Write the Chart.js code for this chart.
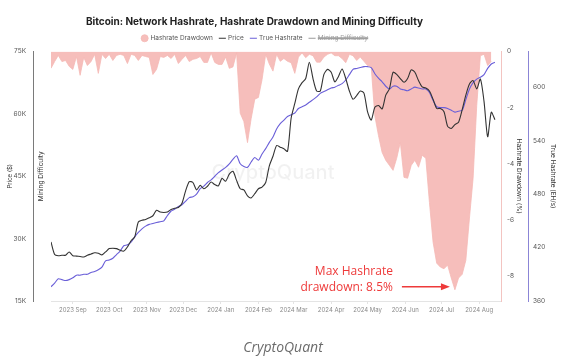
<!DOCTYPE html>
<html><head><meta charset="utf-8">
<script src="https://cdn.jsdelivr.net/npm/chart.js@4.4.1/dist/chart.umd.min.js"></script>
<style>
html,body{margin:0;padding:0;background:#fff;}
#wrap{position:relative;width:576px;height:360px;}
#caption{position:absolute;left:0;width:566px;top:337px;text-align:center;font:italic 14px 'Open Sans',sans-serif;color:#6b6b6b;}
</style></head><body>
<div id="wrap"><canvas id="c" width="576" height="360"></canvas><div id="caption">CryptoQuant</div></div>
<script>
// ---- data (daily series sampled every 3 days from 2023-08-14) ----
const startDate = '2023-08-14';
const monthLabels = ['2023 Sep','2023 Oct','2023 Nov','2023 Dec','2024 Jan','2024 Feb','2024 Mar','2024 Apr','2024 May','2024 Jun','2024 Jul','2024 Aug'];
const monthDates  = ['2023-09-01','2023-10-01','2023-11-01','2023-12-01','2024-01-01','2024-02-01','2024-03-01','2024-04-01','2024-05-01','2024-06-01','2024-07-01','2024-08-01'];
const priceTicks = [15000,30000,45000,60000,75000];
const drawdownTicks = [0,-2,-4,-6,-8];
const hashrateTicks = [360,420,480,540,600];

const price = [29200,26200,25900,26000,26000,26800,25900,25800,25700,25600,
  26000,26300,26600,26500,26100,26800,27600,27700,27600,27200,
  27000,28000,29500,30400,34000,34400,34600,35000,35500,36800,
  36400,36300,36400,37000,37300,37500,38500,41500,43700,43500,
  41700,42800,42000,42600,43600,43000,42700,44500,43800,45500,
  46200,44000,42000,41700,40300,39800,40800,42000,42400,43500,
  47500,49800,52400,52000,51600,51000,59000,62500,66000,67500,
  68500,72400,68500,65500,65500,69500,70700,70000,67700,69000,
  70800,68500,65500,63500,64400,65500,65000,60500,58500,61600,
  62000,61200,64500,66000,70000,69500,68500,67600,68500,70600,
  70000,68000,66500,66200,65500,63500,61300,61300,60500,57000,
  56500,57400,58000,61000,64500,67200,68000,66000,68400,63000,
  54500,60400,58600];

const trueHashrate = [376,380,385,384,383,384,386,389,389,390,
  390,392,393,395,398,405,406,408,412,416,
  422,423,426,432,437,441,444,446,447,448,
  449,450,456,461,463,466,468,472,476,477,
  480,486,489,493,496,500,504,507,510,514,
  519,523,514,511,510,516,521,518,525,531,
  538,544,553,559,563,567,569,571,576,578,
  580,583,586,589,593,595,597,599,600,602,
  604,608,614,620,621,622,623,623,622,615,
  610,606,601,598,601,601,598,597,596,598,
  600,599,598,598,594,585,578,577,577,576,
  574,572,573,574,586,598,605,609,611,614,
  621,626,628];

const hashrateDrawdown = [-0.6,-0.36,-0.14,-0.36,-0.32,-0.53,-0.64,-0.18,-0.85,-0.21,
  -0.5,-0.36,-0.1,-0.78,-0.1,-0.25,-0.1,-0.32,-0.14,-0.1,
  -0.14,-0.43,-0.1,-0.14,-0.32,-0.14,-0.18,-0.21,-0.82,-0.64,
  -0.18,-0.21,-0.14,-0.25,-0.1,-0.43,-0.28,-0.14,-0.36,-0.28,
  -0.25,-0.18,-0.39,-0.39,-0.05,-0.39,-0.46,-0.46,-0.2,-0.6,
  -0.55,-0.05,-2.2,-2.5,-3.25,-2.4,-1.7,-1.64,-1.0,-0.1,
  -0.45,-0.7,-0.1,-0.35,-0.25,-0.35,-0.4,-0.78,-0.2,-0.05,
  -0.22,-0.1,-0.15,-0.38,-0.38,-0.2,-0.1,-0.05,-0.15,-0.15,
  -0.25,-0.4,-0.1,-0.15,-0.32,-0.2,-0.35,-0.5,-0.55,-2.3,
  -3.0,-3.6,-3.88,-4.06,-4.24,-3.81,-3.24,-4.49,-4.52,-4.06,
  -3.88,-4.13,-3.7,-3.81,-5.38,-6.8,-7.55,-7.69,-7.75,-7.62,
  -8.08,-8.5,-8.08,-7.95,-7.45,-5.94,-4.52,-1.92,-0.15,-0.1,
  -0.5,-0.35,null];

const miningDifficulty = []; // hidden series (legend only)

// ---- helpers ----
const DAY = 86400000;
const t0 = Date.parse(startDate);
const dayOf = s => Math.round((Date.parse(s) - t0) / DAY);
const days = price.map((_, i) => i * 3);               // category positions (every 3rd day)
const monthPos = monthDates.map(dayOf);
const pts = arr => arr.map((v, i) => ({x: days[i], y: v}));

Chart.defaults.font.family = 'Inter, "Liberation Sans", sans-serif';

const overlay = {
  id: 'overlay',
  afterLayout(chart) {
    // title & legend of the source image sit centred around x≈255
    if (chart.titleBlock) chart.titleBlock.right = chart.titleBlock.left + 509;
    if (chart.legend) chart.legend.right = chart.legend.left + 510;
  },
  beforeDatasetsDraw(chart) {
    const {ctx, chartArea: a} = chart;
    ctx.save();
    ctx.font = '500 20px Inter, sans-serif';
    ctx.fillStyle = 'rgba(0,0,0,0.055)';
    ctx.textAlign = 'center';
    ctx.textBaseline = 'middle';
    ctx.fillText('CryptoQuant', (a.left + a.right) / 2 - 3, (a.top + a.bottom) / 2 - 3);
    ctx.restore();
  },
  afterDatasetsDraw(chart) {
    const {ctx} = chart;
    let mi = 0;
    hashrateDrawdown.forEach((v, i) => { if (v !== null && v < hashrateDrawdown[mi]) mi = i; });
    const tipX = chart.scales.x.getPixelForValue(days[mi]) - 5;
    const tipY = chart.scales.yDD.getPixelForValue(hashrateDrawdown[mi]) - 3;
    ctx.save();
    ctx.strokeStyle = '#ee3a3a'; ctx.fillStyle = '#ee3a3a'; ctx.lineWidth = 1.6;
    ctx.beginPath(); ctx.moveTo(tipX - 48, tipY); ctx.lineTo(tipX - 7, tipY); ctx.stroke();
    ctx.beginPath(); ctx.moveTo(tipX, tipY); ctx.lineTo(tipX - 9, tipY - 3.5); ctx.lineTo(tipX - 9, tipY + 3.5); ctx.closePath(); ctx.fill();
    ctx.font = '12px "Open Sans", sans-serif';
    ctx.textAlign = 'right'; ctx.textBaseline = 'middle';
    ctx.fillText('Max Hashrate', tipX - 57, tipY - 15);
    ctx.fillText('drawdown: 8.5%', tipX - 57, tipY + 1);
    ctx.restore();
  }
};

new Chart(document.getElementById('c'), {
  type: 'line',
  data: {
    datasets: [
      { label: 'Hashrate Drawdown', data: pts(hashrateDrawdown), yAxisID: 'yDD', order: 3,
        borderColor: '#f5b9b5', backgroundColor: '#f6bebb', borderWidth: 0.8, fill: 'origin',
        pointRadius: 0, pointStyle: 'circle', tension: 0 },
      { label: 'Price', data: pts(price), yAxisID: 'y', order: 1,
        borderColor: '#333333', backgroundColor: '#333333', borderWidth: 1.1,
        pointRadius: 0, pointStyle: 'line', tension: 0.25 },
      { label: 'True Hashrate', data: pts(trueHashrate), yAxisID: 'yH', order: 2,
        borderColor: '#6a5fd8', backgroundColor: '#6a5fd8', borderWidth: 1.1,
        pointRadius: 0, pointStyle: 'line', tension: 0.25 },
      { label: 'Mining Difficulty', data: miningDifficulty, yAxisID: 'yDiff', order: 4, hidden: true,
        borderColor: '#9a9a9a', backgroundColor: '#9a9a9a', borderWidth: 1.1,
        pointRadius: 0, pointStyle: 'line' }
    ]
  },
  options: {
    responsive: false, animation: false, devicePixelRatio: 1,
    layout: { padding: { left: 0, right: 0, top: 0, bottom: 39 } },
    plugins: {
      tooltip: { enabled: false },
      title: { display: true, text: 'Bitcoin: Network Hashrate, Hashrate Drawdown and Mining Difficulty',
        color: '#222', font: { size: 10, weight: 'bold' }, padding: { top: 16, bottom: 0 } },
      legend: { display: true,
        labels: { usePointStyle: true, boxWidth: 5, boxHeight: 5, padding: 7, color: '#555',
          font: { size: 6.5 },
          sort: (a, b) => a.datasetIndex - b.datasetIndex,
          generateLabels: ch => Chart.defaults.plugins.legend.labels.generateLabels(ch).map(l => {
            if (l.hidden) l.fontColor = '#a0a0a0';
            return l;
          }) } }
    },
    scales: {
      x: { type: 'linear', min: 0, max: 371,
        afterBuildTicks: s => { s.ticks = monthPos.map(v => ({ value: v })); },
        ticks: { callback: (v, i) => monthLabels[i], font: { size: 6 }, color: '#8a8a8a',
          padding: 3, maxRotation: 0, autoSkip: false },
        grid: { drawOnChartArea: false, tickLength: 3, color: '#e4e4e4' },
        border: { color: '#e4e4e4' },
        afterFit: s => { s.height = 20; } },
      y: { position: 'left', weight: 2, min: 15000, max: 75000,
        afterBuildTicks: s => { s.ticks = priceTicks.map(v => ({ value: v })); },
        ticks: { callback: v => (v / 1000) + 'K', font: { size: 6.5 }, color: '#555', padding: 7 },
        grid: { display: false, drawTicks: false },
        border: { display: true, color: '#7a7a7a', width: 1 },
        title: { display: true, text: 'Price ($)', font: { size: 6 }, color: '#333', padding: { top: 7, bottom: 0 } },
        afterFit: s => { s.width = 33; } },
      yDiff: { position: 'left', weight: 1, display: true,
        ticks: { display: false }, grid: { display: false, drawTicks: false }, border: { display: false },
        title: { display: true, text: 'Mining Difficulty', font: { size: 6.5 }, color: '#333', padding: { top: 4, bottom: 0 } },
        afterFit: s => { s.width = 18; } },
      yDD: { position: 'right', weight: 1, min: -8.9, max: 0,
        afterBuildTicks: s => { s.ticks = drawdownTicks.map(v => ({ value: v })); },
        ticks: { font: { size: 6.5 }, color: '#555', padding: 6 },
        grid: { display: false, drawTicks: false },
        border: { display: true, color: '#f3c4c1', width: 1 },
        title: { display: true, text: 'Hashrate Drawdown (%)', font: { size: 6.5 }, color: '#333', padding: { top: 5, bottom: 0 } },
        afterFit: s => { s.width = 27; } },
      yH: { position: 'right', weight: 2, min: 360, max: 640,
        afterBuildTicks: s => { s.ticks = hashrateTicks.map(v => ({ value: v })); },
        ticks: { font: { size: 6.5 }, color: '#555', padding: 5 },
        grid: { display: false, drawTicks: false },
        border: { display: true, color: '#8b85d6', width: 1 },
        title: { display: true, text: 'True Hashrate (EH/s)', font: { size: 6.5 }, color: '#333', padding: { top: 19, bottom: 0 } },
        afterFit: s => { s.width = 48; } }
    }
  },
  plugins: [overlay]
});
</script>
</body></html>
